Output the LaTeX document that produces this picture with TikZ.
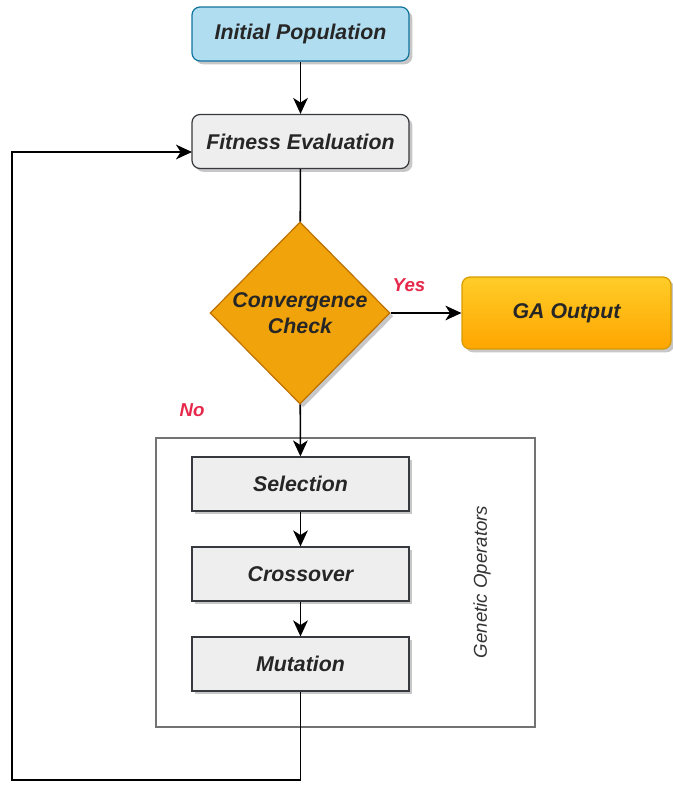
\documentclass[tikz,border=0pt]{standalone}
\usepackage{fontspec}
\setmainfont{Liberation Sans}
\usetikzlibrary{shapes.geometric,arrows.meta,shadows}

\definecolor{ipfill}{RGB}{177,221,240}
\definecolor{ipline}{RGB}{16,115,158}
\definecolor{grfill}{RGB}{238,238,238}
\definecolor{grline}{RGB}{54,57,61}
\definecolor{orfill}{RGB}{240,163,10}
\definecolor{orline}{RGB}{189,112,0}
\definecolor{gatop}{RGB}{255,205,40}
\definecolor{gabot}{RGB}{255,165,0}
\definecolor{galine}{RGB}{215,155,0}
\definecolor{yesno}{RGB}{230,40,75}

\newcommand{\boxfont}{\fontsize{16}{19.5}\selectfont\bfseries\itshape}

\tikzset{every picture/.style={line width=0.75pt}}
\tikzset{
  shd/.style={drop shadow={shadow xshift=2.5pt,shadow yshift=-2.5pt,fill=black,opacity=0.22}},
  roundbox/.style={rectangle,rounded corners=6pt,minimum width=162.75pt,minimum height=40.5pt,inner sep=0pt,font=\boxfont,text=black!85,line width=0.9pt,shd},
  opbox/.style={rectangle,fill=grfill,draw=grline,minimum width=162.75pt,minimum height=40.5pt,inner sep=0pt,font=\boxfont,text=black!85,line width=0.9pt,shd},
  flow/.style={line width=1.2pt,-{Stealth[length=12pt,width=11pt,inset=3.5pt]}},
  link/.style={line width=1.2pt},
  answer/.style={font=\fontsize{14}{16}\selectfont\bfseries\itshape,text=yesno,inner sep=0.75pt}
}

\begin{document}
\begin{tikzpicture}[x=0.75pt,y=0.75pt,yscale=-1,xscale=1]
%set diagram left start at 0, and has height of 785
\useasboundingbox (0,0) rectangle (672,785);

%Rounded Rect
\node [roundbox,fill=ipfill,draw=ipline] (ip) at (300.5,34) {Initial Population};
%Rounded Rect
\node [roundbox,fill=grfill,draw=grline] (fe) at (300.5,141.5) {Fitness Evaluation};
%Diamond
\node [diamond,aspect=1,fill=orfill,draw=orline,line width=0.9pt,minimum width=135pt,minimum height=136.5pt,inner sep=-6pt,align=center,font=\boxfont,text=black!85,shd] (conv) at (300,313) {Convergence\\Check};
%Rounded Rect
\node [roundbox,top color=gatop,bottom color=gabot,draw=galine,minimum width=156.75pt,minimum height=54pt] (ga) at (566.5,313) {GA Output};

%Shape: Rectangle
\node [rectangle,draw=black!55,line width=0.9pt,minimum width=284.25pt,minimum height=216.75pt] (ops) at (345.5,582.5) {};
%Shape: Rectangle
\node [opbox] (sel) at (300.5,484) {Selection};
%Shape: Rectangle
\node [opbox] (cro) at (300.5,574) {Crossover};
%Shape: Rectangle
\node [opbox] (mut) at (300.5,664) {Mutation};

%Straight Lines
\draw [flow] (ip) -- (fe);
\draw [link] (fe) -- (conv);
\draw [flow] (conv) -- (ga);
\draw [flow] (conv) -- (sel);
\draw [flow] (sel) -- (cro);
\draw [flow] (cro) -- (mut);
%Loop back
\coordinate (lpc) at (12,780);
\coordinate (fein) at (192,152);
\draw [flow] (mut.south) |- (lpc) |- (fein);

% Text Node
\node [answer] (yes) at (409,285.5) {Yes};
% Text Node
\node [answer] (no) at (192,410.5) {No};
% Text Node
\node [rotate=90,font=\fontsize{14}{16}\selectfont\itshape,text=black!80,inner sep=0.75pt] (gop) at (482,582) {Genetic Operators};

\end{tikzpicture}
\end{document}
